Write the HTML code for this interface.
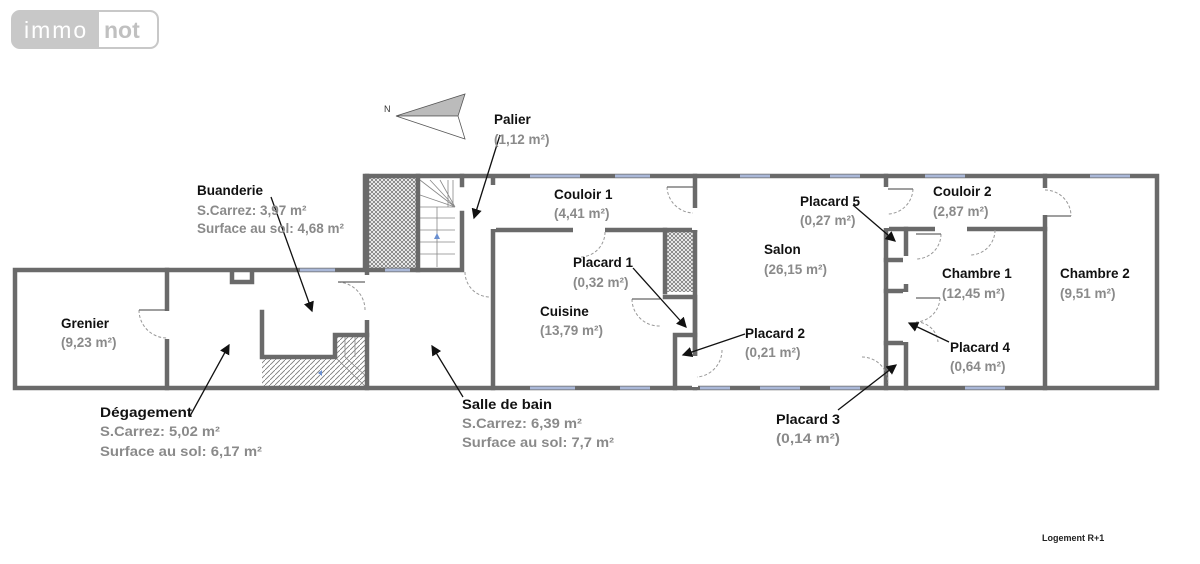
<!DOCTYPE html>
<html><head><meta charset="utf-8"><style>
html,body{margin:0;padding:0;background:#fff;width:1200px;height:564px;overflow:hidden}
svg{display:block}
.t{font-family:"Liberation Sans",sans-serif;font-weight:bold;font-size:13.5px;fill:#111}
.a{font-family:"Liberation Sans",sans-serif;font-weight:bold;font-size:13.5px;fill:#8a8a8a}
</style></head><body>
<svg width="1200" height="564" viewBox="0 0 1200 564">
<defs>
<pattern id="x" width="4" height="4" patternUnits="userSpaceOnUse"><rect width="4" height="4" fill="#fff"/><path d="M0 0L4 4M4 0L0 4" stroke="#777" stroke-width="0.8"/></pattern>
<pattern id="h" width="5" height="5" patternUnits="userSpaceOnUse"><rect width="5" height="5" fill="#fff"/><path d="M0 5L5 0" stroke="#777" stroke-width="0.8"/></pattern>
<marker id="ar" markerWidth="8" markerHeight="8" refX="7" refY="4" orient="auto"><path d="M0 0L8 4L0 8z" fill="#111"/></marker>
</defs>
<rect x="12" y="11" width="146" height="37" rx="8" fill="#c8c8c8"/>
<path d="M99 12h51a7 7 0 0 1 7 7v22a7 7 0 0 1-7 7h-51z" fill="#fff"/>
<rect x="12" y="11" width="146" height="37" rx="8" fill="none" stroke="#c8c8c8" stroke-width="2"/>
<text x="24" y="38" font-family="Liberation Sans,sans-serif" font-size="23" fill="#fff" letter-spacing="2">immo</text>
<text x="104" y="38" font-family="Liberation Sans,sans-serif" font-size="23" font-weight="bold" fill="#c0c0c0">not</text>
<polygon points="396,116 465,94 458,116" fill="#bbb" stroke="#555" stroke-width="0.8"/>
<polygon points="396,116 458,116 465,139" fill="#fff" stroke="#555" stroke-width="0.8"/>
<text x="384" y="112" font-family="Liberation Sans,sans-serif" font-size="9" fill="#333">N</text>
<rect x="369" y="178" width="49" height="92" fill="url(#x)"/>
<rect x="665" y="231" width="30" height="61" fill="url(#x)"/>
<rect x="262" y="357" width="73" height="31" fill="url(#h)"/>
<rect x="335" y="335" width="32" height="53" fill="url(#h)"/>
<g stroke="#888" stroke-width="0.8" fill="none">
<path d="M420 207h35M420 218h35M420 230h35M420 242h35M420 254h35M437 207v60M420 180l35 27M430 180l25 27M440 180l15 27M448 180v27M453 180v27M420 195l35 12"/>
<path d="M345 335v22M355 335v22M335 357l32 31M345 357l22 20"/>
</g>
<path d="M434 239l3-6l3 6z" fill="#6a8fd0"/>
<path d="M318 373l4-3v6z" fill="#6a8fd0"/>
<g stroke="#6a6a6a" stroke-width="4.5" fill="none" stroke-linecap="square">
<path d="M15 270H365M15 270V388H1157V176H365V270"/>
<path d="M167 270V310M167 340V388"/>
<path d="M262 312V357H335V335H367"/>
<path d="M232 272V282H252V272"/>
<path d="M367 176V270M367 270V388"/>
<path d="M418 176V270M418 270H367"/>
<path d="M418 270H462V213M462 176V185"/>
<path d="M493 178V185M493 230V388M493 230H573M605 230H665"/>
<path d="M665 230H695M665 230V292M665 297H695V323M695 323V388"/>
<path d="M675 335V388M675 335H695"/>
<path d="M695 176V207M695 231V355"/>
<path d="M886 176V186M886 229V388M886 229H935M967 229H1045"/>
<path d="M1045 176V187M1045 229V388M1045 229V216"/>
<path d="M906 229V255M906 285V291M906 343V388M886 260H906M886 291H906M886 343H906"/>
</g>
<g stroke="#aab8d8" stroke-width="3">
<path d="M300 270H335M385 270H410M530 176H580M615 176H650M740 176H770M830 176H860M925 176H965M1090 176H1130M530 388H575M620 388H650M700 388H730M760 388H800M830 388H860M965 388H1005"/>
</g>
<g stroke="#fff" stroke-width="6"><path d="M167 311V339M367 275V320M493 185V229M573 230H605M695 208V230M695 356V387M886 187V228M906 256V284M906 292V342M1045 188V215M935 229H967"/></g>
<g stroke="#999" stroke-width="1" fill="none" stroke-dasharray="3,2">
<path d="M139 310A28 28 0 0 0 167 338"/>
<path d="M338 282A28 28 0 0 1 365 310"/>
<path d="M465 272A25 25 0 0 0 490 297"/>
<path d="M667 187A27 27 0 0 0 693 213"/>
<path d="M605 232A25 25 0 0 1 580 257"/>
<path d="M632 299A27 27 0 0 0 660 326"/>
<path d="M722 350A27 27 0 0 1 697 377"/>
<path d="M862 357A26 26 0 0 1 888 383"/>
<path d="M913 189A26 26 0 0 1 888 214"/>
<path d="M1045 190A26 26 0 0 1 1071 216"/>
<path d="M995 230A25 25 0 0 1 970 255"/>
<path d="M941 234A25 25 0 0 1 916 259"/>
<path d="M940 298A25 25 0 0 1 916 322"/>
<path d="M916 322A22 22 0 0 1 938 342"/>
</g>
<g stroke="#666" stroke-width="1.2"><path d="M139 310H167M338 282H365M667 187H693M632 299H660M913 189H888M1071 216H1045M941 234H916M940 298H916"/></g>
<g stroke="#111" stroke-width="1.3" marker-end="url(#ar)">
<path d="M500 135L474 218"/>
<path d="M271 197L312 311"/>
<path d="M190 416L229 345"/>
<path d="M463 397L432 346"/>
<path d="M633 268L686 327"/>
<path d="M745 334L683 355"/>
<path d="M853 205L895 241"/>
<path d="M949 342L909 323"/>
<path d="M838 410L896 365"/>
</g>
<text class="t" x="494" y="124">Palier</text><text class="a" x="494" y="144">(1,12 m²)</text>
<text class="t" x="197" y="195">Buanderie</text><text class="a" x="197" y="215">S.Carrez: 3,97 m²</text><text class="a" x="197" y="233">Surface au sol: 4,68 m²</text>
<text class="t" x="61" y="328">Grenier</text><text class="a" x="61" y="347">(9,23 m²)</text>
<text class="t" x="554" y="199">Couloir 1</text><text class="a" x="554" y="218">(4,41 m²)</text>
<text class="t" x="573" y="267">Placard 1</text><text class="a" x="573" y="287">(0,32 m²)</text>
<text class="t" x="540" y="316">Cuisine</text><text class="a" x="540" y="335">(13,79 m²)</text>
<text class="t" x="764" y="254">Salon</text><text class="a" x="764" y="274">(26,15 m²)</text>
<text class="t" x="800" y="206">Placard 5</text><text class="a" x="800" y="225">(0,27 m²)</text>
<text class="t" x="745" y="338">Placard 2</text><text class="a" x="745" y="357">(0,21 m²)</text>
<text class="t" x="933" y="196">Couloir 2</text><text class="a" x="933" y="216">(2,87 m²)</text>
<text class="t" x="942" y="278">Chambre 1</text><text class="a" x="942" y="298">(12,45 m²)</text>
<text class="t" x="1060" y="278">Chambre 2</text><text class="a" x="1060" y="298">(9,51 m²)</text>
<text class="t" x="950" y="352">Placard 4</text><text class="a" x="950" y="371">(0,64 m²)</text>
<text class="t" x="100" y="417" textLength="92" lengthAdjust="spacingAndGlyphs">Dégagement</text>
<text class="a" x="100" y="436" textLength="120" lengthAdjust="spacingAndGlyphs">S.Carrez: 5,02 m²</text>
<text class="a" x="100" y="456" textLength="162" lengthAdjust="spacingAndGlyphs">Surface au sol: 6,17 m²</text>
<text class="t" x="462" y="409" textLength="90" lengthAdjust="spacingAndGlyphs">Salle de bain</text>
<text class="a" x="462" y="428" textLength="120" lengthAdjust="spacingAndGlyphs">S.Carrez: 6,39 m²</text>
<text class="a" x="462" y="447" textLength="152" lengthAdjust="spacingAndGlyphs">Surface au sol: 7,7 m²</text>
<text class="t" x="776" y="424" textLength="64" lengthAdjust="spacingAndGlyphs">Placard 3</text>
<text class="a" x="776" y="443" textLength="64" lengthAdjust="spacingAndGlyphs">(0,14 m²)</text>
<text x="1042" y="541" font-family="Liberation Sans,sans-serif" font-size="9" font-weight="bold" fill="#222">Logement R+1</text>
</svg>
</body></html>
